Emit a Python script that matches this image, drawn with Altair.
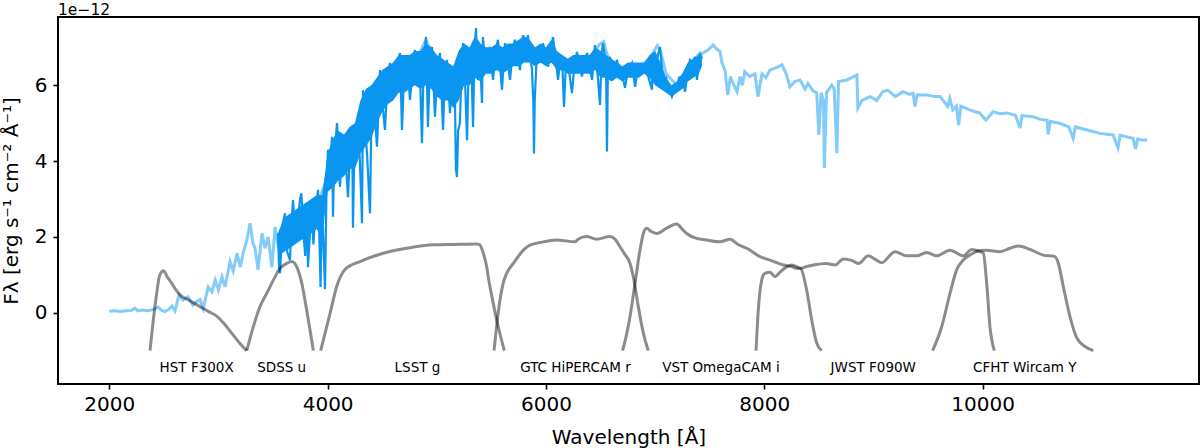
import altair as alt
import pandas as pd

# ---------------- data (flux in units of 1e-12 erg s^-1 cm^-2 A^-1) ----------------
LIGHT_WL = [2000, 2050, 2100, 2150, 2200, 2235, 2260, 2300, 2350, 2400, 2447, 2480, 2510, 2540,
            2574, 2602, 2638, 2675, 2721, 2767, 2800, 2831, 2860, 2906, 2940, 2970, 3000, 3032,
            3060, 3106, 3135, 3170, 3200, 3226, 3260, 3289, 3316, 3335, 3362, 3399, 3426, 3454,
            3490, 3518, 3545, 3600, 3700, 3800, 3900, 4000, 4200, 4400, 4600, 4800, 4901, 5000,
            5200, 5400, 5600, 5800, 6000, 6200, 6400, 6470, 6500, 6530, 6550, 6600, 6800, 6950,
            6980, 7020, 7050, 7100, 7200, 7300, 7411, 7438, 7484, 7530, 7548, 7576, 7595, 7612,
            7640, 7665, 7690, 7706, 7750, 7778, 7800, 7821, 7866, 7914, 7942, 7979, 8015, 8052,
            8100, 8162, 8200, 8235, 8280, 8327, 8373, 8400, 8446, 8480, 8500, 8520, 8542, 8550,
            8570, 8618, 8640, 8665, 8680, 8756, 8800, 8848, 8857, 8895, 8970, 9030, 9085, 9131,
            9200, 9270, 9330, 9363, 9380, 9400, 9490, 9560, 9610, 9680, 9700, 9726, 9760, 9780,
            9800, 9882, 9930, 9973, 10030, 10096, 10160, 10224, 10300, 10343, 10360, 10462,
            10530, 10590, 10600, 10620, 10710, 10790, 10829, 10850, 10957, 11076, 11195, 11240,
            11260, 11378, 11400, 11420, 11470, 11506]
LIGHT_FLUX = [0.04, 0.05, 0.03, 0.05, 0.06, 0.12, 0.05, 0.07, 0.05, 0.08, 0.15, 0.06, 0.03, 0.08,
              0.18, 0.05, 0.47, 0.33, 0.42, 0.20, 0.30, 0.35, 0.11, 0.68, 0.55, 0.86, 0.60, 0.95,
              0.68, 1.35, 1.10, 1.57, 1.20, 1.57, 1.92, 2.36, 1.83, 1.70, 1.13, 2.10, 1.70, 2.00,
              1.20, 2.26, 1.80, 2.00, 2.50, 2.60, 2.80, 3.60, 4.20, 5.20, 6.20, 6.60, 7.20, 6.50,
              6.40, 6.80, 6.80, 6.90, 6.80, 6.40, 6.50, 7.00, 7.10, 7.15, 6.90, 6.50, 6.30, 6.70,
              6.85, 7.05, 6.90, 6.30, 6.00, 6.50, 6.85, 6.85, 6.93, 7.06, 7.00, 6.93, 6.89, 6.59,
              6.40, 5.74, 6.23, 6.10, 5.83, 6.23, 6.00, 6.36, 6.23, 6.30, 5.70, 6.30, 6.20, 6.40,
              6.45, 6.54, 6.30, 5.96, 6.10, 6.14, 5.90, 6.05, 5.85, 5.80, 4.69, 5.80, 5.60, 3.82,
              5.80, 6.00, 5.90, 4.21, 6.10, 6.14, 6.20, 6.27, 5.40, 5.60, 5.70, 5.60, 5.83, 5.87,
              5.70, 5.83, 5.76, 5.79, 5.44, 5.75, 5.74, 5.70, 5.70, 5.44, 5.65, 5.35, 5.45, 4.95,
              5.45, 5.35, 5.30, 5.27, 5.08, 5.30, 5.25, 5.27, 5.21, 4.87, 5.20, 5.17,
              5.10, 5.08, 4.70, 5.05, 4.99, 4.90, 4.60, 4.90, 4.82, 4.73, 4.69, 4.35,
              4.68, 4.60, 4.32, 4.58, 4.55, 4.56]

DARK_WL = [3545, 3555, 3564, 3585, 3609, 3630, 3655, 3670, 3683, 3700, 3719, 3735, 3747, 3760,
           3774, 3795, 3811, 3820, 3838, 3857, 3870, 3884, 3912, 3925, 3935, 3948, 3965, 3976,
           3990, 4003, 4020, 4040, 4049, 4060, 4086, 4100, 4113, 4130, 4159, 4175, 4186, 4205,
           4225, 4232, 4245, 4278, 4295, 4315, 4324, 4345, 4361, 4388, 4400, 4416, 4435, 4452,
           4480, 4500, 4525, 4550, 4571, 4595, 4617, 4640, 4663, 4681, 4700, 4727, 4754, 4780,
           4800, 4828, 4845, 4864, 4880, 4901, 4919, 4940, 4956, 4983, 5005, 5029, 5057, 5075,
           5093, 5121, 5135, 5148, 5167, 5175, 5185, 5195, 5212, 5225, 5240, 5260, 5277, 5290,
           5304, 5320, 5332, 5345, 5359, 5377, 5395, 5414, 5423, 5440, 5460, 5487, 5515, 5540,
           5560, 5580, 5597, 5625, 5650, 5671, 5695, 5716, 5740, 5762, 5790, 5810, 5835, 5855,
           5872, 5885, 5890, 5897, 5918, 5945, 5973, 5995, 6019, 6040, 6064, 6090, 6110, 6130,
           6147, 6165, 6180, 6202, 6238, 6260, 6284, 6310, 6330, 6355, 6376, 6400, 6422, 6449,
           6477, 6495, 6510, 6522, 6540, 6550, 6559, 6568, 6586, 6614, 6650, 6680, 6696, 6724,
           6751, 6788, 6816, 6840, 6861, 6907, 6940, 6971, 6980, 7010, 7044, 7072, 7100, 7118,
           7154, 7180, 7200, 7220, 7246, 7274, 7300, 7319, 7345, 7365, 7383, 7411, 7429]
DARK_FLUX = [2.10, 1.20, 1.04, 2.30, 2.62, 1.60, 1.39, 2.40, 2.97, 2.20, 1.92, 2.70, 3.00, 3.15,
             2.20, 1.50, 2.80, 1.20, 2.10, 2.45, 1.80, 2.60, 3.24, 1.90, 0.68, 3.00, 1.50, 0.62,
             3.32, 4.30, 3.60, 4.64, 2.53, 4.10, 5.00, 3.90, 3.32, 4.30, 4.55, 3.60, 3.05, 4.20,
             4.90, 2.24, 4.40, 5.08, 4.00, 2.36, 5.87, 4.80, 4.20, 2.62, 5.00, 5.96, 5.10, 4.38,
             6.40, 5.60, 4.82, 6.20, 6.59, 5.90, 6.05, 6.50, 6.85, 4.82, 6.30, 6.75, 5.61, 6.50,
             6.93, 5.96, 6.40, 4.47, 6.60, 7.27, 4.90, 6.80, 7.01, 5.17, 6.40, 6.85, 4.82, 6.30,
             6.67, 5.26, 6.20, 6.49, 5.53, 3.80, 3.58, 4.80, 5.00, 6.40, 7.11, 6.00, 4.55, 6.30,
             6.93, 6.20, 4.90, 6.90, 7.51, 6.14, 6.80, 5.53, 7.27, 6.60, 6.32, 7.01, 6.14, 6.90,
             7.20, 6.50, 5.88, 7.11, 6.60, 6.14, 6.90, 7.20, 6.80, 6.40, 7.32, 7.00, 7.32, 6.80,
             6.40, 5.50, 4.20, 5.60, 6.93, 6.60, 7.11, 6.80, 6.49, 6.90, 7.27, 6.70, 6.14, 6.60,
             6.75, 5.43, 6.40, 6.59, 5.79, 6.50, 6.88, 6.50, 6.23, 6.60, 6.85, 6.50, 6.14, 7.06,
             6.14, 5.48, 6.80, 7.11, 6.80, 6.67, 4.25, 6.60, 6.75, 6.14, 6.67, 6.30, 6.32, 5.93,
             6.40, 6.59, 5.96, 6.40, 6.49, 6.49, 6.20, 5.88, 6.75, 6.60, 7.01, 6.14, 6.20, 5.96,
             5.70, 5.90, 5.96, 6.20, 6.23, 5.83, 6.40, 6.67, 6.60, 6.75, 6.14, 6.85, 6.70]

# dense noise band of the dark spectrum (lower / upper envelope)
BAND_WL = [3545, 3600, 3700, 3800, 3900, 3950, 4000, 4050, 4100, 4150, 4200, 4250, 4300, 4350,
           4400, 4450, 4500, 4550, 4600, 4650, 4700, 4750, 4800, 4850, 4900, 4950, 5000, 5050,
           5100, 5150, 5200, 5250, 5300, 5350, 5400, 5450, 5500, 5550, 5600, 5650, 5700, 5750,
           5800, 5850, 5900, 5950, 6000, 6050, 6100, 6150, 6200, 6250, 6300, 6350, 6400, 6450,
           6500, 6550, 6600, 6650, 6700, 6750, 6800, 6850, 6900, 6950, 7000, 7050, 7100, 7150,
           7200, 7250, 7300, 7350, 7400, 7429]
BAND_LO = [1.5, 1.6, 1.8, 2.0, 2.2, 2.0, 3.2, 3.3, 3.5, 3.6, 3.8, 3.8, 4.2, 4.4,
           4.6, 5.0, 5.3, 5.5, 5.6, 5.8, 5.8, 5.9, 6.0, 5.9, 6.0, 5.9, 5.7, 5.6,
           5.6, 5.4, 5.6, 6.0, 6.0, 6.2, 6.1, 6.3, 6.3, 6.4, 6.3, 6.4, 6.5, 6.5,
           6.6, 6.6, 6.5, 6.6, 6.5, 6.6, 6.4, 6.4, 6.3, 6.3, 6.3, 6.3, 6.3, 6.4,
           6.2, 6.2, 6.1, 6.2, 6.1, 6.2, 6.2, 6.2, 6.3, 6.2, 6.0, 5.9, 5.8, 5.7,
           5.8, 5.9, 6.1, 6.2, 6.3, 6.5]
BAND_HI = [2.1, 2.5, 2.7, 2.9, 3.1, 3.1, 4.2, 4.6, 4.8, 4.7, 4.9, 5.0, 5.6, 5.9,
           6.0, 6.2, 6.4, 6.5, 6.6, 6.8, 6.8, 6.8, 6.9, 6.9, 7.1, 7.0, 6.8, 6.7,
           6.6, 6.5, 6.9, 7.1, 7.0, 7.3, 7.1, 7.0, 7.0, 7.1, 7.0, 7.1, 7.1, 7.2,
           7.3, 7.2, 7.0, 7.1, 7.0, 7.2, 6.9, 6.8, 6.7, 6.8, 6.8, 6.8, 6.8, 7.0,
           6.9, 6.8, 6.7, 6.6, 6.5, 6.6, 6.6, 6.6, 6.6, 6.8, 6.9, 6.6, 6.2, 6.0,
           6.1, 6.3, 6.6, 6.7, 6.8, 6.8]

FILTER_NAMES = ["HST F300X", "SDSS u", "LSST g", "GTC HiPERCAM r", "VST OmegaCAM i",
                "JWST F090W", "CFHT Wircam Y"]
FILTER_WL = [
    [2373, 2403, 2434, 2458, 2480, 2495, 2530, 2571, 2610, 2648, 2709, 2770, 2831, 2910, 2984,
     3060, 3135, 3197, 3259],
    [3259, 3319, 3380, 3442, 3503, 3564, 3625, 3671, 3717, 3763, 3808, 3839, 3869],
    [3936, 3980, 4022, 4083, 4159, 4297, 4510, 4724, 4968, 5151, 5364, 5390, 5426, 5457, 5471,
     5517, 5549, 5563, 5618],
    [5524, 5550, 5579, 5610, 5640, 5701, 5793, 5850, 5945, 6098, 6265, 6295, 6372, 6464, 6586,
     6630, 6678, 6720, 6770, 6800, 6846, 6892, 6937],
    [6702, 6740, 6770, 6816, 6861, 6892, 6922, 6960, 7014, 7106, 7197, 7250, 7289, 7380, 7470,
     7594, 7686, 7760, 7839, 7960, 8060, 8174, 8250, 8296, 8327, 8388, 8434, 8480, 8526],
    [7924, 7945, 7976, 8006, 8052, 8098, 8144, 8205, 8251, 8300, 8327, 8388, 8449, 8571, 8648,
     8724, 8800, 8861, 8953, 9010, 9075, 9197, 9304, 9396, 9487, 9579, 9701, 9823, 9900, 9976,
     10006, 10037, 10067, 10107],
    [9542, 9625, 9701, 9762, 9823, 9900, 9976, 10037, 10159, 10250, 10327, 10434, 10556, 10663,
     10694, 10739, 10800, 10862, 10938, 11013],
]
FILTER_T = [
    [-1.0, -0.19, 0.51, 0.95, 1.08, 1.11, 0.95, 0.78, 0.60, 0.47, 0.36, 0.26, 0.16, 0.03, -0.09,
     -0.32, -0.59, -0.81, -1.0],
    [-1.0, -0.37, 0.16, 0.51, 0.86, 1.17, 1.30, 1.35, 1.21, 0.78, 0.07, -0.46, -1.0],
    [-1.0, -0.50, -0.02, 0.69, 1.14, 1.35, 1.57, 1.70, 1.79, 1.80, 1.81, 1.80, 1.57, 1.21, 0.95,
     0.25, -0.20, -0.37, -1.0],
    [-1.0, -0.30, 0.34, 0.80, 1.04, 1.30, 1.65, 1.78, 1.85, 1.92, 1.87, 1.94, 2.01, 1.94, 2.01,
     1.95, 1.74, 1.55, 1.30, 0.95, 0.16, -0.54, -1.0],
    [-1.0, -0.55, -0.10, 0.78, 1.65, 2.09, 2.23, 2.15, 2.09, 2.23, 2.34, 2.20, 2.09, 1.96, 1.92,
     1.87, 1.94, 1.80, 1.70, 1.48, 1.38, 1.26, 1.22, 1.17, 1.17, 0.60, -0.19, -0.80, -1.0],
    [-1.0, 0.07, 0.86, 1.04, 1.07, 0.95, 1.07, 1.21, 1.26, 1.21, 1.17, 1.22, 1.26, 1.30, 1.26,
     1.42, 1.38, 1.30, 1.50, 1.42, 1.32, 1.61, 1.50, 1.50, 1.59, 1.50, 1.65, 1.50, 1.67, 1.61,
     1.57, 0.78, -0.37, -1.0],
    [-1.0, -0.37, 0.51, 1.13, 1.39, 1.55, 1.64, 1.65, 1.61, 1.70, 1.76, 1.67, 1.52, 1.48,
     1.30, 0.69, -0.10, -0.66, -0.89, -1.0],
]
LABEL_WL = [2800, 3579, 4823, 6270, 7603, 8998, 10386]
LABEL_Y = -1.47

X_TICKS = [2000, 4000, 6000, 8000, 10000]
Y_TICKS = [0, 2, 4, 6]
OFFSET_TEXT = ["1e−12"]

# ---------------- tables ----------------
light = pd.DataFrame({"wl": LIGHT_WL, "flux": LIGHT_FLUX})
dark = pd.DataFrame({"wl": DARK_WL, "flux": DARK_FLUX})
band = pd.DataFrame({"wl": BAND_WL, "flux": BAND_LO, "hi": BAND_HI})
frows = []
for name, wls, ts in zip(FILTER_NAMES, FILTER_WL, FILTER_T):
    for w, t in zip(wls, ts):
        frows.append({"filter": name, "wl": w, "flux": t})
filters = pd.DataFrame(frows)
labels = pd.DataFrame({"wl": LABEL_WL, "flux": [LABEL_Y] * len(LABEL_WL), "label": FILTER_NAMES})
offset_df = pd.DataFrame({"t": OFFSET_TEXT})

FONT = "DejaVu Sans"
LIGHT = "#83cbf9"
DARK = "#0a96f0"
xscale = alt.Scale(domain=[1530, 11982], nice=False, zero=False)
yscale = alt.Scale(domain=[-1.88, 7.80], nice=False, zero=False)

xaxis = alt.Axis(values=X_TICKS, format="d", title="Wavelength [Å]", grid=False, domain=False,
                 tickColor="black", tickWidth=1.6, tickSize=5, labelPadding=5,
                 labelFont=FONT, labelFontSize=20, labelColor="black",
                 titleFont=FONT, titleFontSize=20, titleFontWeight="normal", titleColor="black",
                 titleY=59, titleBaseline="alphabetic")
yaxis = alt.Axis(values=Y_TICKS, format="d", title="Fλ [erg s⁻¹ cm⁻² Å⁻¹]", grid=False,
                 domain=False, tickColor="black", tickWidth=1.6, tickSize=5, labelPadding=6,
                 labelFont=FONT, labelFontSize=20, labelColor="black",
                 titleFont=FONT, titleFontSize=20, titleFontWeight="normal", titleColor="black",
                 titleX=-41, titleY=183.5, titleAngle=270, titleBaseline="alphabetic",
                 titleAlign="center")

X = alt.X("wl:Q", scale=xscale, axis=xaxis)
Y = alt.Y("flux:Q", scale=yscale, axis=yaxis)

light_line = alt.Chart(light).mark_line(color=LIGHT, strokeWidth=3).encode(x=X, y=Y)
dark_band = alt.Chart(band).mark_area(color=DARK).encode(x=X, y=Y, y2="hi:Q")
dark_line = alt.Chart(dark).mark_line(color=DARK, strokeWidth=2.2).encode(x=X, y=Y)
filter_lines = alt.Chart(filters).mark_line(
    color="black", opacity=0.45, strokeWidth=3, interpolate="monotone"
).encode(x=X, y=Y, detail="filter:N")
text = alt.Chart(labels).mark_text(font=FONT, fontSize=13.5, color="black",
                                   align="center", baseline="middle").encode(
    x=X, y=Y, text="label:N")
# scientific offset text above the top-left corner of the axes
offset_text = alt.Chart(offset_df).mark_text(
    font=FONT, fontSize=15.5, color="black", align="left", baseline="alphabetic", dy=-2
).encode(x=alt.value(0), y=alt.value(0), text="t:N")

chart = alt.layer(light_line, dark_band, dark_line, filter_lines, text, offset_text).properties(
    width=1141, height=367,
    autosize=alt.AutoSizeParams(type="none"),
    padding={"left": 58, "top": 17, "right": 1, "bottom": 64},
).configure(background="white").configure_view(stroke="black", strokeWidth=2)

chart.save("out.html", embed_options={"renderer": "svg", "actions": False})
